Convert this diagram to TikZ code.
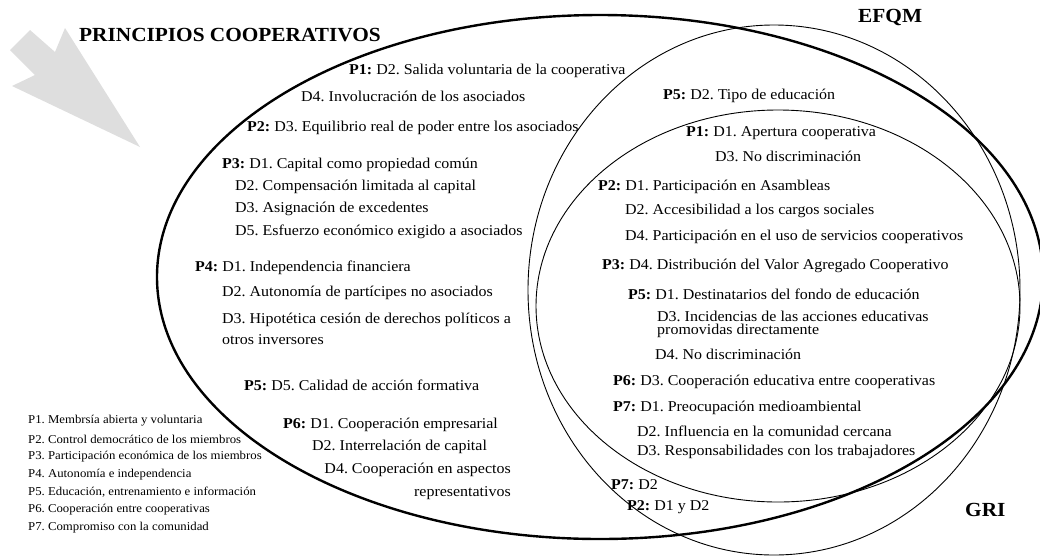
\documentclass[tikz,border=0pt]{standalone}
\usepackage{fontspec}
\setmainfont{Liberation Serif}[FakeStretch=1.065]
\usetikzlibrary{positioning}
\frenchspacing

\begin{document}
\begin{tikzpicture}[x=1pt, y=-1pt,
  item/.style={anchor=west, inner sep=0pt, font=\fontsize{15}{17}\selectfont},
  legend/.style={anchor=west, inner sep=0pt, font=\fontsize{12}{14}\selectfont},
  title/.style={anchor=west, inner sep=0pt, font=\fontsize{20}{24}\selectfont\bfseries},
  outline/.style={line width=2.4pt},
  thinline/.style={line width=0.9pt}]
			\useasboundingbox (0,0) rectangle (1040,555);
			\clip (0,0) rectangle (1040,555);
			
			% grey arrow
			\fill[black!13] (30,30) -- (55,52) -- (65,28) -- (140,147) -- (12,86) -- (35,75) -- (10,50) -- cycle;
			
			% the three sets
			\draw[outline] (600,277) ellipse [x radius=443, y radius=262];
			\draw[thinline] (774,290) ellipse [x radius=246, y radius=265];
			\draw[thinline] (778,306) ellipse [x radius=242, y radius=196];
			
			\node[title] (principios) at (79,35) {PRINCIPIOS COOPERATIVOS};
			\node[title] (efqm) at (858,17) {EFQM};
			\node[title] (gri) at (965,510) {GRI};
			
			% only cooperative principles
			\node[item] (p1d2) at (349,71) {\textbf{P1:} D2. Salida voluntaria de la cooperativa};
			\node[item] (p1d4) at (301,96) {D4. Involucración de los asociados};
			\node[item] (p2d3) at (247,128) {\textbf{P2:} D3. Equilibrio real de poder entre los asociados};
			\node[item] (p3d1) at (222,165) {\textbf{P3:} D1. Capital como propiedad común};
			\node[item] (p3d2) at (235,187) {D2. Compensación limitada al capital};
			\node[item] (p3d3) at (235,209) {D3. Asignación de excedentes};
			\node[item] (p3d5) at (235,232) {D5. Esfuerzo económico exigido a asociados};
			\node[item] (p4d1) at (195,268) {\textbf{P4:} D1. Independencia financiera};
			\node[item] (p4d2) at (222,293) {D2. Autonomía de partícipes no asociados};
			\node[item] (p4d3) at (222,320) {D3. Hipotética cesión de derechos políticos a};
			\node[item] (p4d3b) at (222,340) {otros inversores};
			\node[item] (p5d5) at (244,385) {\textbf{P5:} D5. Calidad de acción formativa};
			\node[item] (p6d1) at (283,425) {\textbf{P6:} D1. Cooperación empresarial};
			\node[item] (p6d2) at (312,447) {D2. Interrelación de capital};
			\node[item, anchor=east] (p6d4) at (511,470) {D4. Cooperación en aspectos};
			\node[item, anchor=east] (p6d4b) at (511,493) {representativos};
			
			% principles and EFQM
			\node[item] (efp5d2) at (663,96) {\textbf{P5:} D2. Tipo de educación};
			
			% all three
			\node[item] (allp1d1) at (686,133) {\textbf{P1:} D1. Apertura cooperativa};
			\node[item] (allp1d3) at (715,156) {D3. No discriminación};
			\node[item] (allp2d1) at (598,187) {\textbf{P2:} D1. Participación en Asambleas};
			\node[item] (allp2d2) at (625,211) {D2. Accesibilidad a los cargos sociales};
			\node[item] (allp2d4) at (625,237) {D4. Participación en el uso de servicios cooperativos};
			\node[item] (allp3d4) at (602,266) {\textbf{P3:} D4. Distribución del Valor Agregado Cooperativo};
			\node[item] (allp5d1) at (628,294) {\textbf{P5:} D1. Destinatarios del fondo de educación};
			\node[item] (allp5d3) at (657,316) {D3. Incidencias de las acciones educativas};
			\node[item] (allp5d3b) at (657,331) {promovidas directamente};
			\node[item] (allp5d4) at (655,354) {D4. No discriminación};
			\node[item] (allp6d3) at (613,382) {\textbf{P6:} D3. Cooperación educativa entre cooperativas};
			\node[item] (allp7d1) at (613,408) {\textbf{P7:} D1. Preocupación medioambiental};
			\node[item] (allp7d2) at (637,431) {D2. Influencia en la comunidad cercana};
			\node[item] (allp7d3) at (637,452) {D3. Responsabilidades con los trabajadores};
			
			% principles and GRI
			\node[item] (grip7d2) at (611,485) {\textbf{P7:} D2};
			\node[item] (grip2d1) at (627,507) {\textbf{P2:} D1 y D2};
			
			% legend
			\node[legend] (leg1) at (28,421) {P1. Membrsía abierta y voluntaria};
			\node[legend] (leg2) at (28,439) {P2. Control democrático de los miembros};
			\node[legend] (leg3) at (28,457) {P3. Participación económica de los miembros};
			\node[legend] (leg4) at (28,475) {P4. Autonomía e independencia};
			\node[legend] (leg5) at (28,492) {P5. Educación, entrenamiento e información};
			\node[legend] (leg6) at (28,510) {P6. Cooperación entre cooperativas};
			\node[legend] (leg7) at (28,528) {P7. Compromiso con la comunidad};
		\end{tikzpicture}
\end{document}
